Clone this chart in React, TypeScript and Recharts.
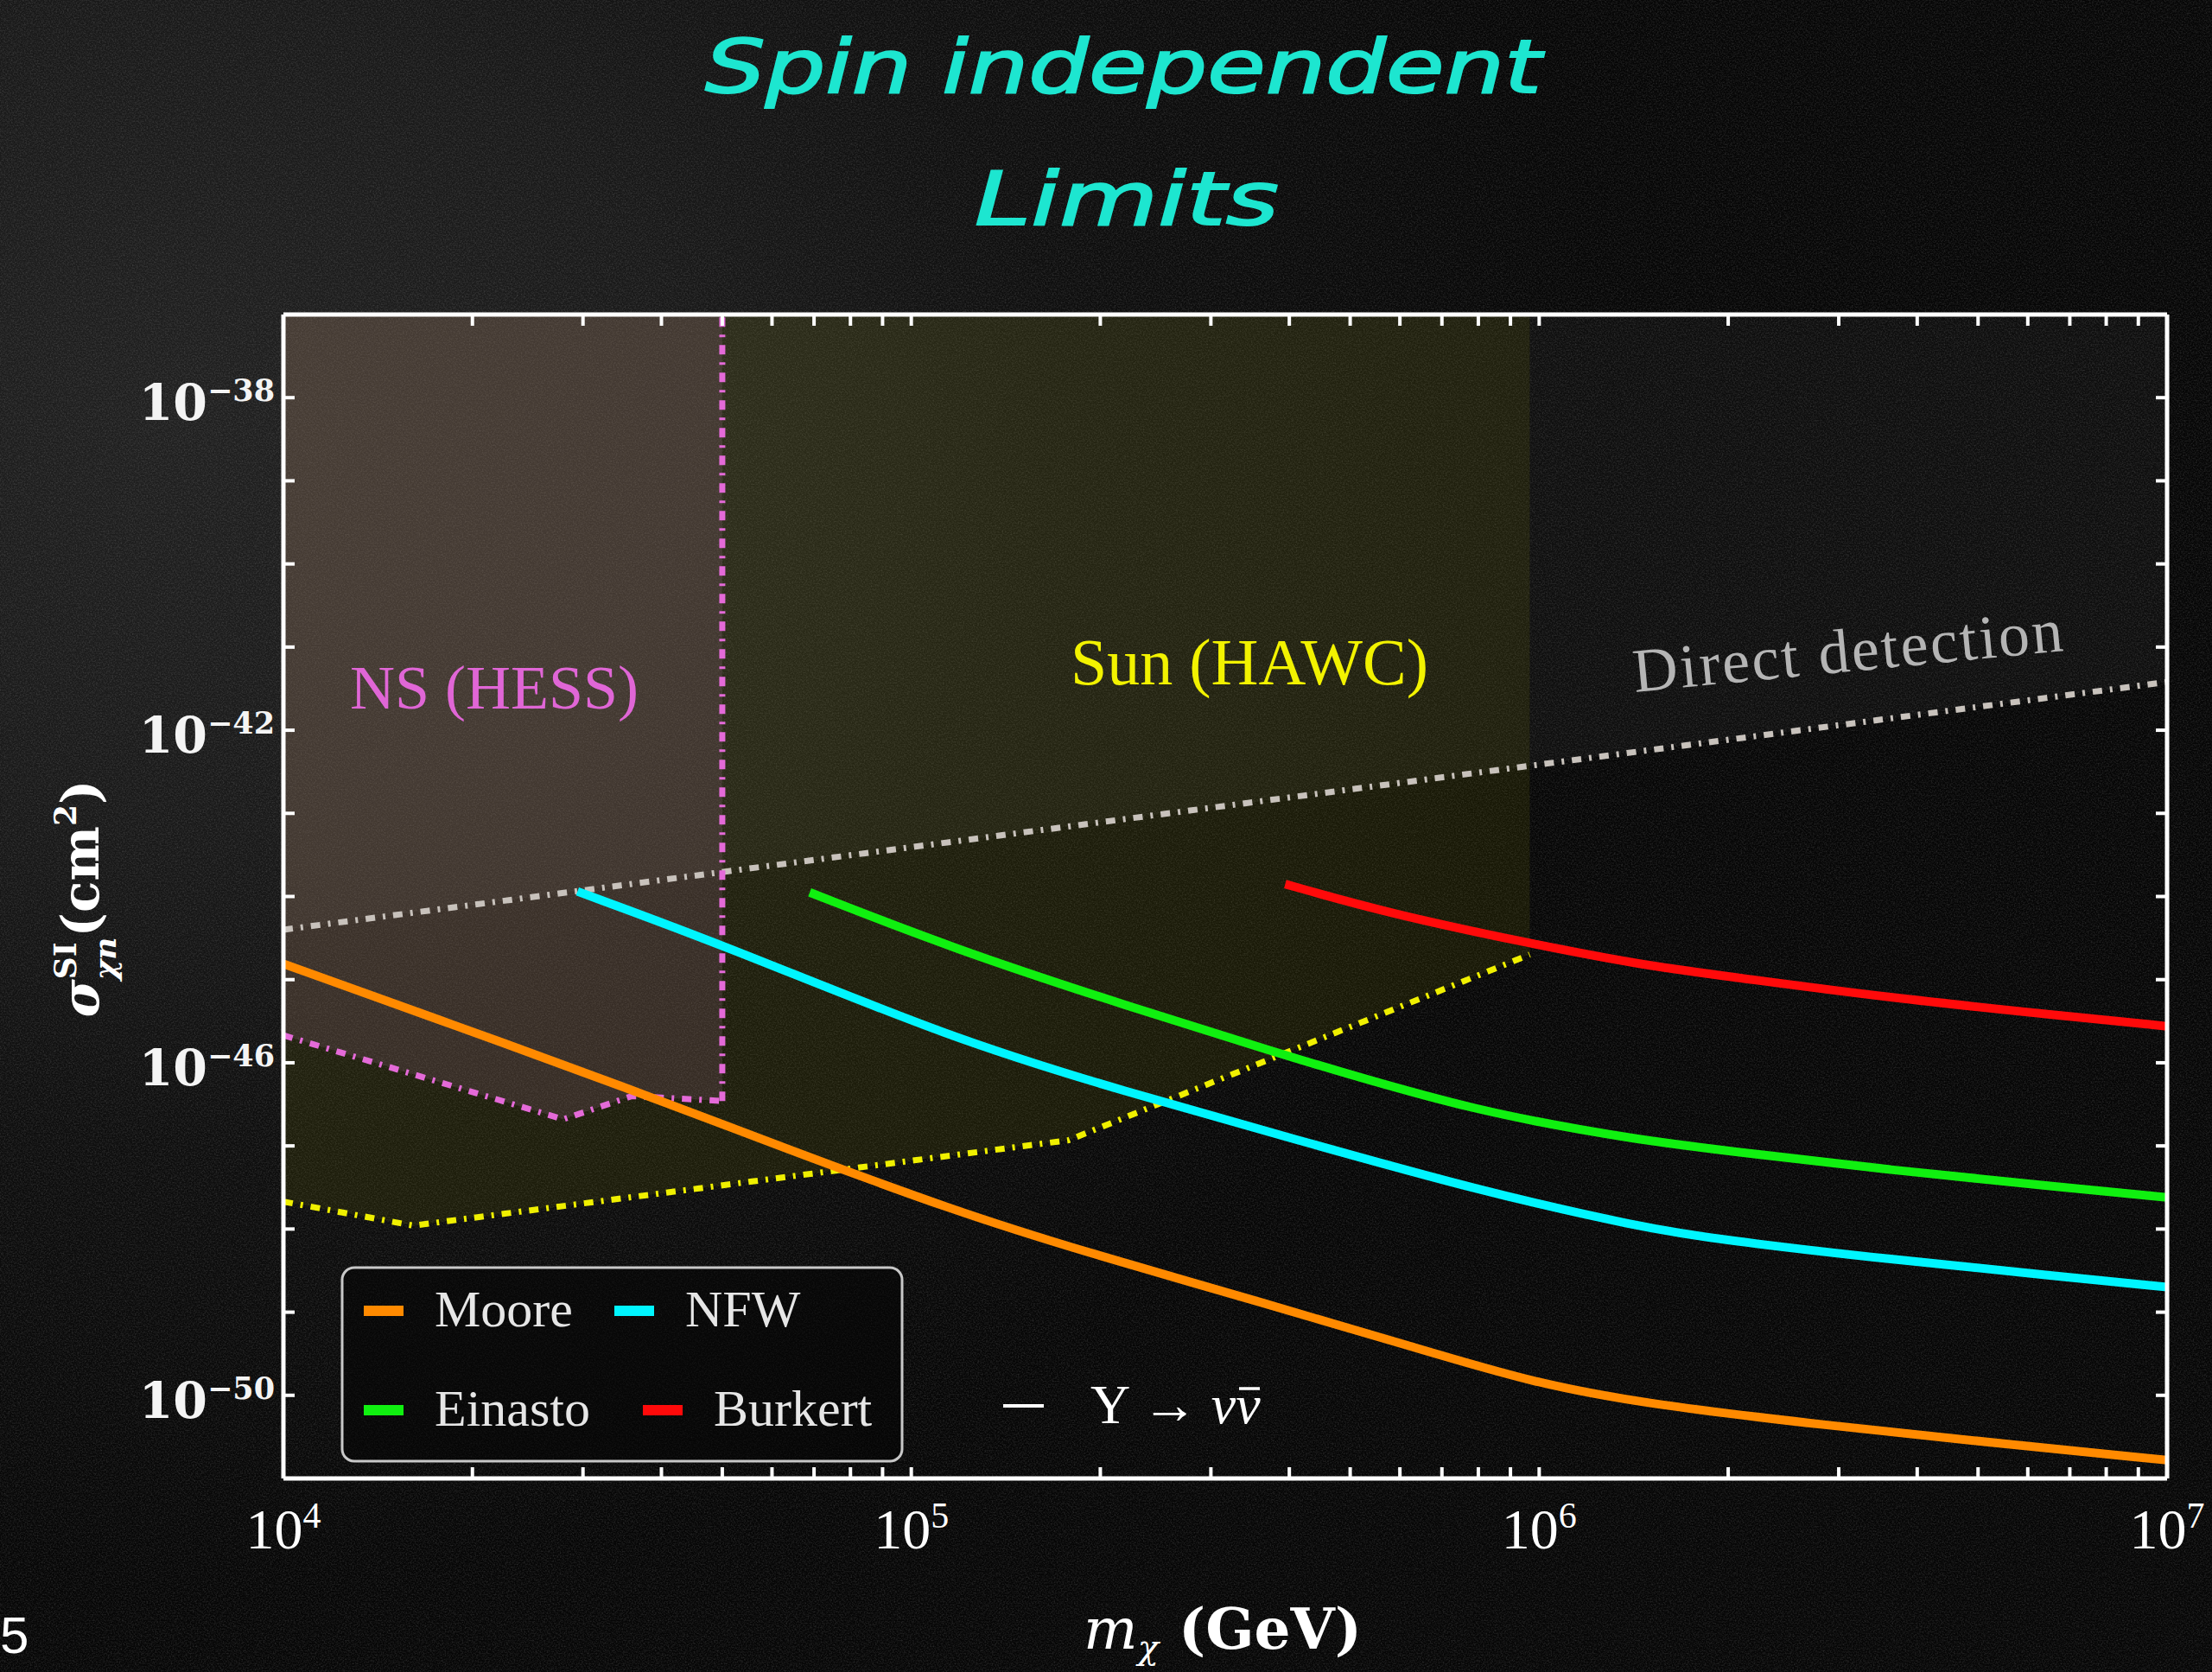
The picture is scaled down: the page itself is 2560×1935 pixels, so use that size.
import React from "react";
import { ComposedChart, Line, Area, XAxis, YAxis } from "recharts";

const W = 2560;
const H = 1935;

// tick positions
const massTicks = [
  1e4, 2e4, 3e4, 4e4, 5e4, 6e4, 7e4, 8e4, 9e4,
  1e5, 2e5, 3e5, 4e5, 5e5, 6e5, 7e5, 8e5, 9e5,
  1e6, 2e6, 3e6, 4e6, 5e6, 6e6, 7e6, 8e6, 9e6, 1e7,
];
const massLabels = [1e4, 1e5, 1e6, 1e7];
const sigmaTicks = [
  1e-50, 1e-49, 1e-48, 1e-47, 1e-46, 1e-45, 1e-44, 1e-43, 1e-42, 1e-41, 1e-40, 1e-39, 1e-38,
];
const sigmaLabels = [1e-38, 1e-42, 1e-46, 1e-50];
const sigmaTop = 1e-37;

// limit curves, m in GeV, sigma in cm^2
const mooreMass = [1e4, 1.86e4, 3.55e4, 6.31e4, 1.17e5, 1.86e5, 3.72e5, 6.31e5, 9.8e5, 1.48e6, 2.69e6, 4.79e6, 1e7];
const mooreSigma = [1.55e-45, 2.88e-46, 4.9e-47, 9.3e-48, 1.66e-48, 5.5e-49, 1.23e-49, 3.8e-50, 1.41e-50, 7.9e-51, 4.6e-51, 2.9e-51, 1.66e-51];

const nfwMass = [2.94e4, 5.01e4, 1.17e5, 2.19e5, 4.17e5, 7.94e5, 1.45e6, 1.95e6, 3.63e6, 6.76e6, 1e7];
const nfwSigma = [1.15e-44, 2.63e-45, 1.9e-46, 4.5e-47, 1.15e-47, 2.95e-48, 1.05e-48, 7.4e-49, 4.3e-49, 2.7e-49, 2.0e-49];

const einastoMass = [6.89e4, 1.17e5, 2.19e5, 4.17e5, 7.94e5, 1.45e6, 1.95e6, 3.63e6, 6.76e6, 1e7];
const einastoSigma = [1.12e-44, 2.34e-45, 4.9e-46, 1.07e-46, 2.57e-47, 1.17e-47, 8.9e-48, 5.1e-48, 3.2e-48, 2.4e-48];

const burkertMass = [3.94e5, 5.75e5, 9.44e5, 1.45e6, 1.95e6, 3.63e6, 6.76e6, 1e7];
const burkertSigma = [1.41e-44, 6.3e-45, 2.82e-45, 1.51e-45, 1.12e-45, 6.0e-46, 3.7e-46, 2.75e-46];

// direct detection bound
const ddMass = [1e4, 1e7];
const ddSigma = [3.98e-45, 3.8e-42];

// NS (HESS) excluded region, lower edge
const nsMass = [1e4, 2.79e4, 3.59e4, 5e4];
const nsSigma = [2.14e-46, 2.09e-47, 3.98e-47, 3.47e-47];

// Sun (HAWC) excluded region, lower edge
const sunMass = [1e4, 1.61e4, 1.78e5, 9.66e5];
const sunSigma = [2.14e-48, 1.1e-48, 1.17e-47, 2.0e-45];

const toPts = (ms: number[], ss: number[]) => ms.map((m, i) => ({ m, s: ss[i] }));
const toBand = (ms: number[], ss: number[]) => ms.map((m, i) => ({ m, band: [ss[i], sigmaTop] }));

const series = [
  { name: "Moore", color: "#ff8a00", data: toPts(mooreMass, mooreSigma) },
  { name: "NFW", color: "#00f5ff", data: toPts(nfwMass, nfwSigma) },
  { name: "Einasto", color: "#10f010", data: toPts(einastoMass, einastoSigma) },
  { name: "Burkert", color: "#ff0a0a", data: toPts(burkertMass, burkertSigma) },
];

const ddData = toPts(ddMass, ddSigma);
const nsEdge = toPts(nsMass, nsSigma);
const nsWall = [{ m: 5e4, s: nsSigma[nsSigma.length - 1] }, { m: 5e4, s: sigmaTop }];
const sunEdge = toPts(sunMass, sunSigma);

const serif = "'Liberation Serif', 'DejaVu Serif', serif";
const dashDot = "11 9 3 9";
const TICK = 13;

const BottomTick = (p: any) => {
  const { x, y, payload } = p;
  const v = payload.value;
  const major = massLabels.includes(v);
  return (
    <g>
      <line x1={x} y1={y} x2={x} y2={y - TICK} stroke="#fff" strokeWidth={4} />
      {major && (
        <text x={x} y={y + 81} textAnchor="middle" fill="#fff" fontFamily={serif} fontSize={66}>
          10<tspan dy={-24} fontSize={42}>{Math.round(Math.log10(v))}</tspan>
        </text>
      )}
    </g>
  );
};

const TopTick = (p: any) => (
  <line x1={p.x} y1={p.y} x2={p.x} y2={p.y + TICK} stroke="#fff" strokeWidth={4} />
);

const LeftTick = (p: any) => {
  const { x, y, payload } = p;
  const v = payload.value;
  const major = sigmaLabels.includes(v);
  return (
    <g>
      <line x1={x} y1={y} x2={x + TICK} y2={y} stroke="#fff" strokeWidth={4} />
      {major && (
        <text x={x - 10} y={y + 26} textAnchor="end" fill="#f4f4f4" fontFamily="'DejaVu Serif', serif" fontWeight="bold" fontSize={57}>
          10<tspan dy={-22} fontSize={35}>{"\u2212" + Math.abs(Math.round(Math.log10(v)))}</tspan>
        </text>
      )}
    </g>
  );
};

const RightTick = (p: any) => (
  <line x1={p.x} y1={p.y} x2={p.x - TICK} y2={p.y} stroke="#fff" strokeWidth={4} />
);

const axisLine = { stroke: "#fff", strokeWidth: 5 };

export default function App() {
  return (
    <div
      style={{
        position: "absolute",
        left: 0,
        top: 0,
        width: W,
        height: H,
        overflow: "hidden",
        background:
          "radial-gradient(ellipse 65% 70% at 8% 25%, #202020 0%, #191919 35%, #0e0e0e 62%, #060606 100%)",
      }}
    >
      <svg width={W} height={H} style={{ position: "absolute", left: 0, top: 0 }}>
        <defs>
          <filter id="chalk" x="0" y="0" width="100%" height="100%">
            <feTurbulence type="fractalNoise" baseFrequency="0.6" numOctaves={3} seed={7} />
            <feColorMatrix type="matrix" values="0 0 0 0 1  0 0 0 0 1  0 0 0 0 1  0.26 0 0 0 -0.1" />
          </filter>
        </defs>
        <rect x={0} y={0} width={W} height={H} filter="url(#chalk)" />
      </svg>

      <ComposedChart
        width={W}
        height={H}
        margin={{ top: 354, right: 42, bottom: 124, left: 128 }}
        style={{ position: "absolute", left: 0, top: 0 }}
      >
        <XAxis
          xAxisId="x"
          dataKey="m"
          type="number"
          scale="log"
          domain={[1e4, 1e7]}
          allowDataOverflow
          ticks={massTicks}
          interval={0}
          height={100}
          tickSize={0}
          tickMargin={0}
          tickLine={false}
          axisLine={axisLine}
          tick={<BottomTick />}
        />
        <XAxis
          xAxisId="top"
          orientation="top"
          dataKey="m"
          type="number"
          scale="log"
          domain={[1e4, 1e7]}
          allowDataOverflow
          ticks={massTicks}
          interval={0}
          height={10}
          tickSize={0}
          tickMargin={0}
          tickLine={false}
          axisLine={axisLine}
          tick={<TopTick />}
        />
        <YAxis
          yAxisId="y"
          type="number"
          scale="log"
          domain={[1e-51, sigmaTop]}
          allowDataOverflow
          ticks={sigmaTicks}
          interval={0}
          width={200}
          tickSize={0}
          tickMargin={0}
          tickLine={false}
          axisLine={axisLine}
          tick={<LeftTick />}
        />
        <YAxis
          yAxisId="right"
          orientation="right"
          type="number"
          scale="log"
          domain={[1e-51, sigmaTop]}
          allowDataOverflow
          ticks={sigmaTicks}
          interval={0}
          width={10}
          tickSize={0}
          tickMargin={0}
          tickLine={false}
          axisLine={axisLine}
          tick={<RightTick />}
        />

        <Area xAxisId="x" yAxisId="y" data={toBand(ddMass, ddSigma)} dataKey="band" type="linear"
          stroke="none" fill="#ffffff" fillOpacity={0.035} isAnimationActive={false} />
        <Area xAxisId="x" yAxisId="y" data={toBand(sunMass, sunSigma)} dataKey="band" type="linear"
          stroke="none" fill="#6a6a08" fillOpacity={0.18} isAnimationActive={false} />
        <Area xAxisId="x" yAxisId="y" data={toBand(nsMass, nsSigma)} dataKey="band" type="linear"
          stroke="none" fill="#9a6a8e" fillOpacity={0.2} isAnimationActive={false} />

        <Line xAxisId="top" yAxisId="right" data={ddData} dataKey="s" stroke="none" dot={false}
          isAnimationActive={false} />

        <Line xAxisId="x" yAxisId="y" data={ddData} dataKey="s" type="linear" stroke="#c8c2bc"
          strokeWidth={7} strokeDasharray={dashDot} dot={false} isAnimationActive={false} />
        <Line xAxisId="x" yAxisId="y" data={sunEdge} dataKey="s" type="linear" stroke="#f0f000"
          strokeWidth={7} strokeDasharray={dashDot} dot={false} isAnimationActive={false} />
        <Line xAxisId="x" yAxisId="y" data={nsEdge} dataKey="s" type="linear" stroke="#e46ad8"
          strokeWidth={7} strokeDasharray={dashDot} dot={false} isAnimationActive={false} />
        <Line xAxisId="x" yAxisId="y" data={nsWall} dataKey="s" type="linear" stroke="#e46ad8"
          strokeWidth={7} strokeDasharray={dashDot} dot={false} isAnimationActive={false} />

        {series.map((sr) => (
          <Line key={sr.name} xAxisId="x" yAxisId="y" name={sr.name} data={sr.data} dataKey="s"
            type="basis" stroke={sr.color} strokeWidth={10} dot={false} isAnimationActive={false} />
        ))}
      </ComposedChart>

      <svg width={W} height={H} style={{ position: "absolute", left: 0, top: 0, pointerEvents: "none" }}>
        <text x={1300} y={107} textAnchor="middle" fill="#1de6d0" stroke="#1de6d0" strokeWidth={2}
          fontFamily="'DejaVu Sans', sans-serif" fontStyle="italic" fontSize={86}
          textLength={968} lengthAdjust="spacingAndGlyphs">
          Spin independent
        </text>
        <text x={1304} y={260} textAnchor="middle" fill="#1de6d0" stroke="#1de6d0" strokeWidth={2}
          fontFamily="'DejaVu Sans', sans-serif" fontStyle="italic" fontSize={86}
          textLength={352} lengthAdjust="spacingAndGlyphs">
          Limits
        </text>

        <text x={405} y={820} fill="#e066d6" fontFamily={serif} fontSize={72}>NS (HESS)</text>
        <text x={1239} y={792} fill="#f2f200" fontFamily={serif} fontSize={76}>Sun (HAWC)</text>
        <text transform="translate(1892,801) rotate(-5.5)" fill="#b4b4b4" fontFamily={serif}
          fontSize={72} letterSpacing={2.5}>
          Direct detection
        </text>

        <text transform="translate(114,1040) rotate(-90)" textAnchor="middle" fill="#fff"
          fontFamily="'DejaVu Serif', serif" fontWeight="bold" fontSize={60}>
          <tspan fontStyle="italic">σ</tspan>
          <tspan dy={-26} fontSize={36}>SI</tspan>
          <tspan dx={-44} dy={46} fontSize={36} fontStyle="italic">χn</tspan>
          <tspan dy={-20}>(cm</tspan>
          <tspan dy={-26} fontSize={36}>2</tspan>
          <tspan dy={26}>)</tspan>
        </text>

        <text x={1415} y={1908} textAnchor="middle" fill="#fff" fontFamily="'DejaVu Serif', serif"
          fontWeight="bold" fontSize={66}>
          <tspan fontStyle="italic" fontWeight="normal">m</tspan>
          <tspan fontStyle="italic" fontWeight="normal" fontSize={40} dy={12}>χ</tspan>
          <tspan dy={-12}>{"\u00a0(GeV)"}</tspan>
        </text>

        <rect x={396} y={1467} width={648} height={224} rx={14} fill="rgba(6,6,6,0.55)"
          stroke="#c8c8c8" strokeWidth={3} />
        {series.map((sr, i) => {
          const col = i % 2;
          const row = Math.floor(i / 2);
          const sx = col === 0 ? 421 : i === 1 ? 711 : 744;
          const tx = sx + 82;
          const cy = row === 0 ? 1517 : 1632;
          return (
            <g key={sr.name}>
              <rect x={sx} y={cy - 6} width={46} height={12} fill={sr.color} />
              <text x={tx} y={cy + 18} fill="#e6e6e6" fontFamily={serif} fontSize={60}>{sr.name}</text>
            </g>
          );
        })}

        <line x1={1161} y1={1627} x2={1208} y2={1627} stroke="#fff" strokeWidth={4} />
        <text x={1262} y={1647} fill="#fff" fontFamily={serif} fontSize={64}>
          {"Y \u2192 "}
          <tspan fontStyle="italic">{"\u03bd\u03bd"}</tspan>
        </text>
        <line x1={1434} y1={1607} x2={1458} y2={1607} stroke="#fff" strokeWidth={3.5} />

        <text x={0} y={1913} fill="#fff" fontFamily="'Liberation Sans', sans-serif" fontSize={60}>5</text>
      </svg>
    </div>
  );
}
